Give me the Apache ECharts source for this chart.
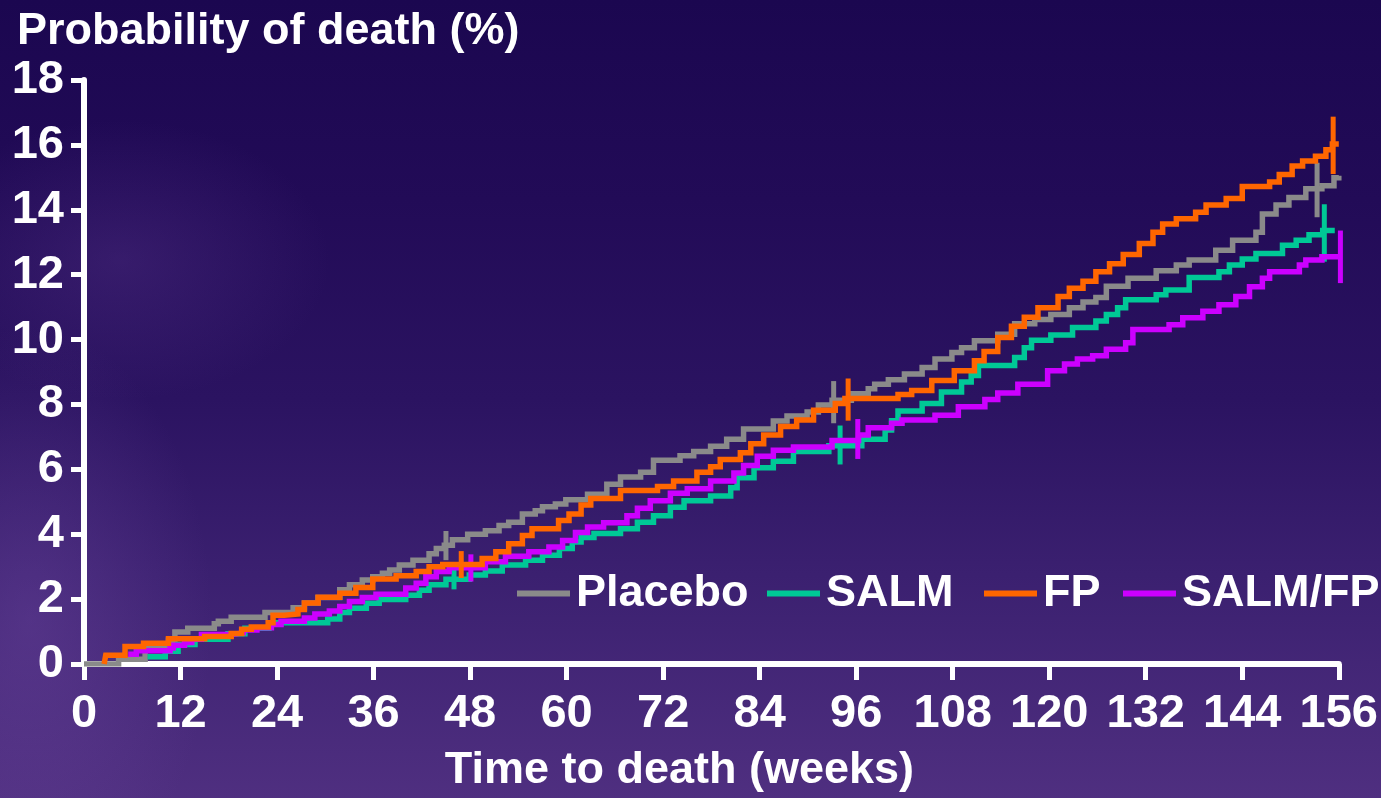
<!DOCTYPE html>
<html>
<head>
<meta charset="utf-8">
<script src="https://cdn.jsdelivr.net/npm/echarts@6/dist/echarts.min.js"></script>
<style>
  html, body { margin: 0; padding: 0; width: 1381px; height: 798px; overflow: hidden; }
  body {
    background:
      radial-gradient(ellipse 260px 420px at 30px 620px, rgba(120,80,170,0.35), rgba(120,80,170,0) 70%),
      radial-gradient(ellipse 300px 200px at 120px 260px, rgba(110,70,160,0.25), rgba(110,70,160,0) 70%),
      linear-gradient(to bottom, #1b0750 0%, #220b57 25%, #2b1361 50%, #3b2070 72%, #4f2f80 100%);
  }
  #chart { width: 1381px; height: 798px; }
</style>
</head>
<body>
<div id="chart"></div>
<script>
// ---- data (weeks, probability of death %) ----
const seriesNames = ['Placebo', 'SALM', 'FP', 'SALM/FP'];
const xTicks = [0, 12, 24, 36, 48, 60, 72, 84, 96, 108, 120, 132, 144, 156];
const yTicks = [0, 2, 4, 6, 8, 10, 12, 14, 16, 18];

const placebo = [
  [0,0],[4.3,0.15],[7.6,0.5],[10.5,0.73],[11.3,0.99],[12.9,1.1],[16.2,1.24],[16.7,1.32],[18.3,1.44],[22.5,1.59],[26.0,1.73],
  [27.4,1.88],[29.1,2.05],[31.8,2.29],[33.0,2.44],[34.6,2.59],[35.9,2.69],[37.1,2.8],[38.0,2.9],[39.2,3.05],[40.9,3.2],[42.9,3.4],
  [43.8,3.56],[44.8,3.66],[45.8,3.83],[47.7,4.0],[49.9,4.11],[51.6,4.27],[52.8,4.37],[54.5,4.62],[56.1,4.72],[57.0,4.85],[58.6,4.93],
  [59.9,5.06],[62.6,5.23],[65.0,5.54],[66.7,5.76],[69.2,5.91],[70.8,6.28],[74.1,6.42],[75.8,6.55],[77.9,6.71],[79.9,6.93],[82.0,7.24],
  [85.7,7.49],[87.4,7.64],[89.9,7.77],[91.3,7.98],[93.0,8.13],[95.4,8.33],[97.5,8.48],[98.3,8.62],[100.0,8.76],[102.0,8.94],[104.2,9.14],
  [105.8,9.4],[107.9,9.6],[109.1,9.75],[110.7,9.96],[113.6,10.16],[115.7,10.49],[118.2,10.62],[120.2,10.77],[122.5,10.98],[124.2,11.16],
  [125.8,11.3],[127.1,11.64],[129.8,11.89],[133.3,12.12],[135.8,12.3],[137.4,12.45],[140.7,12.75],[142.8,13.06],[145.7,13.31],
  [146.5,13.87],[148.2,14.15],[149.8,14.38],[151.9,14.65],[153.9,14.74],[155.4,14.99],[156,15.05]
];
const salm = [
  [7.9,0.22],[10.1,0.39],[11.7,0.6],[13.8,0.76],[17.9,0.93],[20.0,1.1],[23.0,1.27],[30.3,1.39],[31.8,1.59],[33.0,1.72],[35.1,1.87],
  [36.7,1.99],[40.0,2.12],[41.7,2.27],[42.9,2.44],[45.0,2.61],[47.9,2.74],[49.9,2.87],[52.0,3.05],[54.9,3.2],[57.0,3.35],[59.1,3.56],
  [60.7,3.76],[61.8,3.9],[63.4,4.02],[66.7,4.17],[68.8,4.37],[70.8,4.57],[72.9,4.83],[74.6,5.03],[77.9,5.18],[80.4,5.43],[81.2,5.74],
  [83.3,6.05],[85.7,6.25],[88.2,6.55],[92.6,6.73],[96.7,6.93],[99.6,7.21],[100.4,7.5],[101.2,7.8],[104.2,8.03],[106.6,8.38],
  [109.1,8.69],[110.3,8.89],[111.2,9.2],[115.7,9.45],[116.9,9.75],[117.8,9.98],[120.2,10.14],[122.9,10.37],[125.8,10.57],[127.1,10.77],
  [128.5,10.98],[129.5,11.23],[133.3,11.38],[134.5,11.53],[137.4,11.91],[141.1,12.09],[142.4,12.3],[144.0,12.48],[145.7,12.65],
  [149.0,12.91],[150.7,13.06],[152.3,13.23],[154.0,13.36],[155.5,13.36]
];
const fp = [
  [2.5,0],[2.7,0.27],[5.1,0.54],[7.4,0.64],[10.5,0.78],[15.0,0.85],[18.3,0.94],[19.6,1.07],[20.8,1.14],[22.9,1.27],[23.5,1.5],
  [24.9,1.54],[26.6,1.68],[27.4,1.88],[29.1,2.06],[31.8,2.18],[33.8,2.36],[35.9,2.62],[38.8,2.72],[41.3,2.85],[42.9,3.0],[44.6,3.07],
  [49.5,3.25],[51.2,3.46],[52.8,3.71],[54.5,3.96],[55.7,4.17],[59.0,4.42],[60.3,4.62],[61.8,4.9],[63.0,5.1],[66.7,5.35],[71.3,5.47],
  [73.3,5.64],[76.2,5.91],[77.9,6.08],[79.1,6.3],[81.6,6.51],[82.9,6.79],[84.5,7.06],[86.6,7.32],[88.6,7.52],[90.7,7.82],[93.4,8.03],
  [94.6,8.18],[101.2,8.31],[102.9,8.43],[105.4,8.74],[108.2,9.04],[110.7,9.35],[111.9,9.63],[113.6,10.06],[115.3,10.41],[116.9,10.69],
  [118.6,10.98],[121.1,11.33],[122.5,11.58],[124.2,11.8],[125.8,12.09],[127.5,12.34],[129.2,12.62],[131.2,12.96],[132.9,13.31],
  [134.1,13.56],[135.8,13.72],[138.2,13.92],[139.5,14.15],[142.0,14.35],[144.0,14.72],[147.4,14.86],[148.6,15.09],[150.2,15.35],
  [151.5,15.5],[153.1,15.65],[154.4,15.85],[155.2,16.03],[156,16.03]
];
const salmFp = [
  [5.5,0.3],[6.5,0.41],[10.7,0.49],[11.1,0.58],[12.5,0.66],[13.4,0.76],[14.6,0.91],[18.3,0.96],[19.8,1.05],[21.5,1.12],[23.3,1.22],
  [24.5,1.32],[27.4,1.42],[28.7,1.54],[30.5,1.63],[31.8,1.77],[33.0,1.93],[34.6,2.05],[36.3,2.15],[40.0,2.34],[41.3,2.49],[42.5,2.69],
  [43.8,2.85],[45.4,2.97],[49.9,3.15],[52.4,3.32],[55.3,3.46],[57.8,3.61],[59.5,3.81],[61.1,4.05],[62.6,4.22],[64.6,4.35],[67.5,4.57],
  [68.8,4.8],[70.4,5.03],[72.9,5.26],[75.0,5.4],[77.9,5.64],[80.8,5.89],[82.0,6.12],[83.7,6.4],[85.7,6.59],[88.2,6.69],[93.0,6.89],
  [96.3,7.06],[97.5,7.28],[100.4,7.42],[101.7,7.52],[105.8,7.67],[108.7,7.93],[112.0,8.15],[113.6,8.35],[116.1,8.62],[119.8,9.04],
  [121.9,9.25],[123.5,9.4],[125.4,9.5],[127.1,9.7],[129.5,9.9],[130.4,10.31],[134.9,10.46],[136.6,10.67],[139.1,10.87],[141.1,11.07],
  [143.2,11.33],[144.9,11.63],[146.5,11.89],[147.4,12.09],[151.1,12.3],[151.9,12.45],[153.9,12.55],[156,12.55]
];
// error bars: [week, low, high]
const placeboErr = [[45.0,3.2,4.1],[93.2,7.42,8.72],[153.3,13.77,15.45]];
const salmErr    = [[46.0,2.3,3.0],[94.0,6.15,7.35],[154.2,12.4,14.17]];
const fpErr      = [[46.9,2.65,3.48],[95.0,7.5,8.8],[155.3,15.1,16.87]];
const salmFpErr  = [[48.1,2.54,3.38],[96.2,6.32,7.55],[156.2,11.74,13.36]];

const colors = ['#8a8a8a', '#00c896', '#ff6600', '#cc00ff'];
const lines = [placebo, salm, fp, salmFp];
const errs = [placeboErr, salmErr, fpErr, salmFpErr];
const zOrder = [2, 3, 5, 4];
const legendLeft = [512, 762, 979, 1118];

const FONT = '"Liberation Sans", Arial, sans-serif';

const series = [];
seriesNames.forEach((name, i) => {
  series.push({
    name: name, type: 'line', step: 'end', data: lines[i], showSymbol: false,
    z: zOrder[i], silent: true, animation: false,
    lineStyle: { color: colors[i], width: 5.5, cap: 'butt', join: 'miter' },
    itemStyle: { color: colors[i] }
  });
  series.push({
    name: name, type: 'custom', data: errs[i], z: zOrder[i], silent: true, animation: false, clip: false,
    renderItem: function (params, api) {
      const p1 = api.coord([api.value(0), api.value(1)]);
      const p2 = api.coord([api.value(0), api.value(2)]);
      return { type: 'line', shape: { x1: p1[0], y1: p1[1], x2: p2[0], y2: p2[1] },
               style: { stroke: colors[i], lineWidth: 5 } };
    }
  });
});

const legends = seriesNames.map((n, i) => ({
  data: [{ name: n, icon: 'rect', itemStyle: { color: colors[i] } }],
  left: legendLeft[i], top: 566, itemWidth: 53, itemHeight: 6, itemGap: 0,
  textStyle: { color: '#ffffff', fontSize: 45, fontWeight: 'bold', fontFamily: FONT, padding: [0, 0, 0, 1] },
  selectedMode: false
}));

const chart = echarts.init(document.getElementById('chart'), null, { renderer: 'canvas' });
chart.setOption({
  backgroundColor: 'transparent',
  animation: false,
  textStyle: { fontFamily: FONT },
  title: {
    text: 'Probability of death (%)', left: 12, top: 4,
    textStyle: { color: '#ffffff', fontSize: 45, fontWeight: 'bold', fontFamily: FONT }
  },
  legend: legends,
  grid: { left: 84, right: 40, top: 80, bottom: 128, containLabel: false },
  xAxis: {
    type: 'value', min: xTicks[0], max: xTicks[xTicks.length - 1], interval: 12,
    name: 'Time to death (weeks)', nameLocation: 'middle', nameGap: 84,
    nameTextStyle: { color: '#ffffff', fontSize: 45, fontWeight: 'bold', fontFamily: FONT, padding: [0, 64, 0, 0] },
    axisLine: { show: true, lineStyle: { color: '#ffffff', width: 6 } },
    axisTick: { show: true, length: 16, lineStyle: { color: '#ffffff', width: 5 } },
    axisLabel: { color: '#ffffff', fontSize: 47, fontWeight: 'bold', fontFamily: FONT, margin: 27 },
    splitLine: { show: false }
  },
  yAxis: {
    type: 'value', min: yTicks[0], max: yTicks[yTicks.length - 1], interval: 2,
    axisLine: { show: true, lineStyle: { color: '#ffffff', width: 6 } },
    axisTick: { show: true, length: 13, lineStyle: { color: '#ffffff', width: 5 } },
    axisLabel: { color: '#ffffff', fontSize: 47, fontWeight: 'bold', fontFamily: FONT, margin: 20 },
    splitLine: { show: false }
  },
  series: series
});
</script>
</body>
</html>
